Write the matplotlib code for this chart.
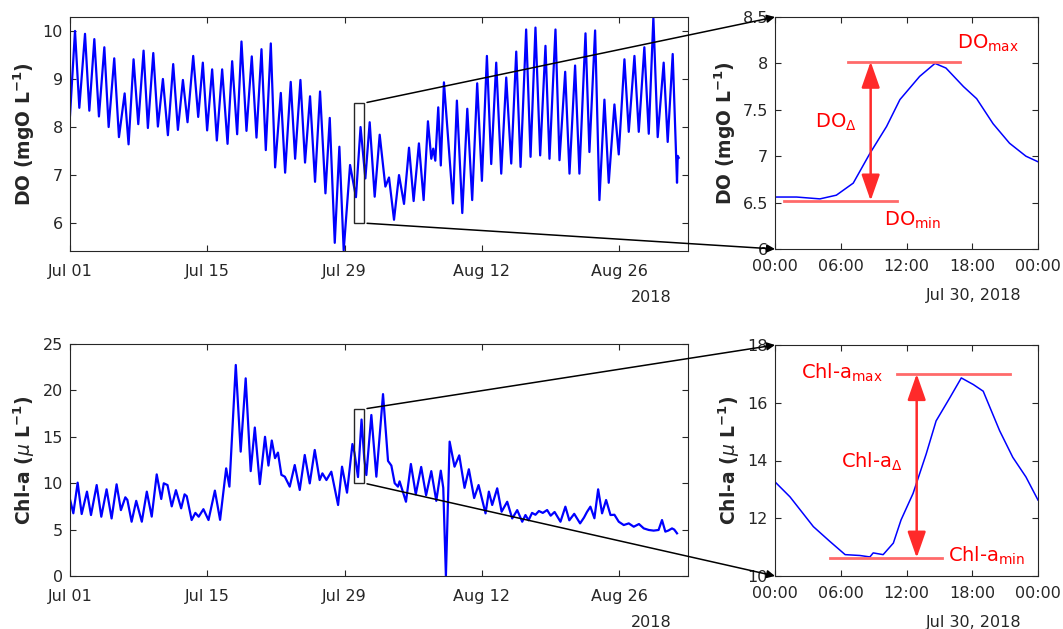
import numpy as np
import matplotlib.pyplot as plt
from matplotlib.patches import Rectangle, ConnectionPatch
from matplotlib.ticker import FormatStrFormatter

# values
# long series: days since 2018-07-01 00:00
do_days = [0.0, 0.51, 0.95, 1.53, 1.97, 2.48, 2.95, 3.50, 3.94, 4.51, 4.99, 5.57, 5.97,
           6.48, 6.96, 7.50, 7.94, 8.49, 8.96, 9.47, 9.98, 10.52, 11.0, 11.51, 11.98,
           12.56, 13.07, 13.54, 13.98, 14.49, 14.97, 15.51, 16.06, 16.53, 17.04, 17.48,
           17.99, 18.53, 19.01, 19.52, 19.96, 20.47, 20.91, 21.49, 21.93, 22.5, 22.95,
           23.49, 23.96, 24.47, 24.98, 25.49, 26.04, 26.48, 26.99, 27.46, 27.90, 28.55,
           29.15, 29.62, 30.11, 30.55, 31.06, 31.57, 32.15, 32.52, 33.03, 33.54, 34.05,
           34.56, 35.03, 35.57, 36.05, 36.49, 36.83, 37.03, 37.24, 37.54, 37.8, 38.12,
           38.6, 39.04, 39.44, 39.99, 40.5, 41.0, 41.51, 41.99, 42.5, 42.94, 43.45, 43.96,
           44.47, 44.98, 45.49, 45.93, 46.5, 46.95, 47.45, 47.93, 48.47, 48.88, 49.49,
           49.9, 50.48, 50.92, 51.49, 51.93, 52.55, 52.95, 53.53, 53.97, 54.48, 54.92,
           55.5, 55.94, 56.52, 56.96, 57.54, 57.98, 58.55, 59.0, 59.47, 59.91, 60.52,
           60.93, 61.44, 61.88, 61.95, 62.05]
do_vals = [8.24, 10.0, 8.4, 9.94, 8.34, 9.83, 8.22, 9.66, 8.0, 9.43, 7.79, 8.7, 7.64,
           9.41, 8.06, 9.59, 7.98, 9.54, 8.01, 9.0, 7.83, 9.31, 7.94, 8.98, 8.1,
           9.48, 8.21, 9.34, 7.93, 9.2, 7.72, 9.2, 7.65, 9.37, 7.85, 9.78,
           7.92, 9.47, 7.78, 9.62, 7.52, 9.74, 7.16, 8.71, 7.05, 8.94, 7.34,
           8.98, 7.26, 8.64, 6.86, 8.74, 6.62, 8.19, 5.59, 7.59, 5.43, 7.21,
           6.54, 8.0, 6.93, 8.1, 6.55, 7.84, 6.76, 6.95, 6.07, 7.0, 6.4,
           7.57, 6.46, 7.66, 6.48, 8.12, 7.34, 7.55, 7.3, 8.41, 7.2, 8.93,
           7.6, 6.41, 8.55, 6.21, 8.38, 6.48, 8.91, 6.88, 9.48, 7.23, 9.34, 7.03,
           9.03, 7.24, 9.57, 7.17, 10.03, 7.38, 10.07, 7.41, 9.69, 7.34, 10.03,
           7.31, 9.15, 7.03, 9.28, 7.03, 9.95, 7.48, 10.01, 6.48, 8.57, 6.84,
           8.47, 7.43, 9.41, 7.9, 9.48, 7.9, 9.66, 7.86, 10.28, 7.79, 9.34,
           7.69, 9.52, 6.84, 7.4, 7.36]

chl_days = [0.0, 0.34, 0.78, 1.19, 1.73, 2.14, 2.72, 3.19, 3.73, 4.24, 4.75, 5.19, 5.64,
            5.85, 6.28, 6.75, 7.32, 7.83, 8.33, 8.84, 9.3, 9.56, 9.94, 10.37, 10.8,
            11.33, 11.68, 11.9, 12.4, 12.78, 13.12, 13.6, 14.12, 14.77, 15.3, 15.92,
            16.25, 16.9, 17.4, 17.91, 18.42, 18.84, 19.35, 19.88, 20.23, 20.57, 20.9,
            21.2, 21.55, 21.9, 22.4, 22.91, 23.42, 23.93, 24.44, 24.95, 25.45, 25.73,
            26.14, 26.64, 27.33, 27.73, 28.24, 28.79, 29.0, 29.36, 29.72, 30.0, 30.21,
            30.72, 31.23, 31.91, 32.42, 32.76, 33.1, 33.43, 33.6, 34.25, 34.75, 35.25,
            35.8, 36.3, 36.83, 37.34, 37.8, 38.05, 38.32, 38.7, 39.2, 39.68, 40.22,
            40.66, 41.2, 41.65, 42.36, 42.7, 43.04, 43.55, 44.0, 44.57, 45.08, 45.59,
            46.1, 46.43, 46.75, 47.1, 47.45, 47.8, 48.2, 48.64, 49.0, 49.4, 50.0,
            50.5, 50.9, 51.4, 52.0, 52.4, 52.7, 53.05, 53.46, 53.84, 54.24, 54.65,
            55.1, 55.5, 55.94, 56.45, 56.96, 57.47, 58.0, 58.49, 59.0, 59.5, 60.0,
            60.35, 60.69, 61.0, 61.37, 61.6, 61.88]
chl_vals = [8.26, 6.76, 10.06, 6.68, 9.09, 6.57, 9.8, 6.39, 9.34, 6.2, 9.88, 7.1, 8.48,
            8.2, 5.85, 8.1, 5.85, 9.09, 6.4, 10.95, 8.3, 9.99, 9.8, 7.5, 9.25,
            7.29, 8.8, 8.6, 6.03, 6.8, 6.39, 7.2, 6.03, 9.2, 6.05, 11.6,
            9.63, 22.74, 13.4, 21.3, 11.3, 16.0, 9.9, 15.0, 11.9, 14.6, 12.7,
            13.3, 10.9, 10.7, 9.63, 11.96, 9.27, 13.04, 9.98, 13.58, 10.34, 11.06,
            10.34, 11.24, 7.65, 11.78, 8.98, 14.22, 13.26, 10.66, 16.86, 12.63, 10.88,
            17.35, 10.7, 19.6, 12.4, 11.9, 10.0, 9.63, 10.2, 8.0, 12.07, 8.8,
            11.75, 8.7, 11.3, 8.1, 11.35, 9.5, 0.0, 14.48, 11.78, 13.0, 9.5,
            11.5, 8.4, 9.8, 6.75, 9.09, 7.65, 9.45, 6.93, 8.0, 6.2, 7.1,
            5.85, 6.57, 6.0, 6.8, 6.6, 7.0, 6.8, 7.11, 6.5, 6.9, 5.85,
            7.47, 6.0, 6.7, 5.67, 6.3, 6.9, 7.47, 6.22, 9.34, 6.75, 8.19,
            6.57, 6.6, 5.85, 5.49, 5.67, 5.31, 5.6, 5.13, 4.96, 4.89, 4.96,
            6.03, 4.78, 4.9, 5.13, 5.0, 4.6]

# zoomed day (Jul 30), hours
do_zoom_hours = [0, 1.97, 4.1, 5.6, 7.14, 8.66, 10.18, 11.4, 13.2, 14.6, 15.6, 17.2,
                 18.4, 19.9, 21.4, 22.9, 24]
do_zoom_vals = [6.56, 6.56, 6.54, 6.58, 6.71, 7.03, 7.32, 7.61, 7.86, 8.0, 7.95, 7.75,
                7.62, 7.35, 7.14, 7.0, 6.94]
chl_zoom_hours = [0, 1.37, 3.5, 5.0, 6.4, 7.75, 8.66, 8.96, 9.87, 10.8, 11.5, 12.6,
                  13.8, 14.7, 15.95, 17.0, 18.1, 19.0, 20.5, 21.7, 22.9, 24]
chl_zoom_vals = [13.26, 12.74, 11.71, 11.2, 10.74, 10.71, 10.66, 10.8, 10.74, 11.14,
                 11.94, 12.86, 14.23, 15.37, 16.17, 16.86, 16.63, 16.4, 15.03, 14.11,
                 13.43, 12.63]

date_ticks = [0, 14, 28, 42, 56]
date_labels = ['Jul 01', 'Jul 15', 'Jul 29', 'Aug 12', 'Aug 26']
hour_ticks = [0, 6, 12, 18, 24]
hour_labels = ['00:00', '06:00', '12:00', '18:00', '00:00']

zoom_day = 29          # Jul 30
do_window = (6, 8.5)
chl_window = (10, 18)
do_min, do_max = 6.52, 8.02
chl_min, chl_max = 10.63, 17.0

dark = '#262626'
red_line = '#ff6a6a'
red = '#ff0000'

W, H = 1063, 629
fig = plt.figure(figsize=(W / 100, H / 100), dpi=100)


def box(l, t, r, b):
    return [l / W, 1 - b / H, (r - l) / W, (b - t) / H]


def style(ax, padx):
    for s in ax.spines.values():
        s.set_color(dark)
        s.set_linewidth(0.8)
    ax.tick_params(direction='in', top=True, right=True, length=4, width=0.8,
                   colors=dark, labelsize=11.5)
    ax.tick_params(axis='x', pad=padx)
    ax.tick_params(axis='y', pad=5)


ax_do = fig.add_axes(box(70, 17, 688, 251))
ax_doz = fig.add_axes(box(775, 17, 1038, 249))
ax_chl = fig.add_axes(box(70, 344, 688, 576))
ax_chlz = fig.add_axes(box(775, 345, 1038, 576))

# left panels
for ax, days, vals, win in [(ax_do, do_days, do_vals, do_window),
                            (ax_chl, chl_days, chl_vals, chl_window)]:
    ax.plot(days, vals, color='blue', lw=1.6, solid_joinstyle='round')
    ax.add_patch(Rectangle((zoom_day, win[0]), 1, win[1] - win[0], fill=False,
                           ec=dark, lw=1, zorder=3))
    ax.set_xlim(0, 63)
    ax.set_xticks(date_ticks)
    ax.set_xticklabels(date_labels)
    style(ax, 9)
    ax.text(0.974, -0.2, '2018', transform=ax.transAxes, ha='right', va='center',
            fontsize=11.5, color=dark)

ax_do.set_ylim(min(do_vals) - 0.01, max(do_vals) + 0.01)
ax_do.set_yticks([6, 7, 8, 9, 10])
ax_chl.set_ylim(0, 25)
ax_chl.set_yticks([0, 5, 10, 15, 20, 25])

# zoom panels
for ax, hrs, vals, win in [(ax_doz, do_zoom_hours, do_zoom_vals, do_window),
                           (ax_chlz, chl_zoom_hours, chl_zoom_vals, chl_window)]:
    ax.plot(hrs, vals, color='blue', lw=1.1, solid_joinstyle='round')
    ax.set_xlim(0, 24)
    ax.set_ylim(*win)
    ax.set_xticks(hour_ticks)
    ax.set_xticklabels(hour_labels)
    ax.yaxis.set_major_formatter(FormatStrFormatter('%g'))
    style(ax, 7)
    ax.text(0.939, -0.2, 'Jul 30, 2018', transform=ax.transAxes, ha='right',
            va='center', fontsize=11.5, color=dark)

ax_doz.set_yticks([6, 6.5, 7, 7.5, 8, 8.5])
ax_chlz.set_yticks([10, 12, 14, 16, 18])

# y labels
lab = dict(fontsize=13.5, fontweight='bold', color=dark)
ax_do.set_ylabel('DO (mgO L$^{\\mathbf{-1}}$)', **lab)
ax_doz.set_ylabel('DO (mgO L$^{\\mathbf{-1}}$)', **lab)
ax_chl.set_ylabel('Chl-a ($\\mu$ L$^{\\mathbf{-1}}$)', **lab)
ax_chlz.set_ylabel('Chl-a ($\\mu$ L$^{\\mathbf{-1}}$)', **lab)
ax_do.yaxis.set_label_coords(-0.053, 0.5)
ax_chl.yaxis.set_label_coords(-0.053, 0.5)
ax_doz.yaxis.set_label_coords(-0.14, 0.5)
ax_chlz.yaxis.set_label_coords(-0.125, 0.5)

# red annotations
def range_marks(ax, lo, hi, lo_x, hi_x, arrow_x):
    ax.plot(lo_x, [lo, lo], color=red_line, lw=2)
    ax.plot(hi_x, [hi, hi], color=red_line, lw=2)
    ax.annotate('', xy=(arrow_x, hi), xytext=(arrow_x, lo),
                arrowprops=dict(arrowstyle='<|-|>,head_length=0.8,head_width=0.28',
                                color='#ff2a2a', lw=1.8, mutation_scale=20,
                                shrinkA=0, shrinkB=0))


range_marks(ax_doz, do_min, do_max, [0.82, 11.1], [6.69, 16.9], 8.73)
tx = dict(fontsize=14, color=red, va='center', ha='left')
ax_doz.text(16.6, 8.22, 'DO$_\\mathregular{max}$', **tx)
ax_doz.text(9.95, 6.31, 'DO$_\\mathregular{min}$', **tx)
ax_doz.text(3.65, 7.37, 'DO$_\\mathregular{\\Delta}$', **tx)

range_marks(ax_chlz, chl_min, chl_max, [5.0, 15.2], [11.1, 21.4], 12.93)
ax_chlz.text(2.4, 17.05, 'Chl-a$_\\mathregular{max}$', **tx)
ax_chlz.text(15.8, 10.7, 'Chl-a$_\\mathregular{min}$', **tx)
ax_chlz.text(6.0, 13.94, 'Chl-a$_\\mathregular{\\Delta}$', **tx)

# connectors from zoom boxes to zoom panels
for src, dst, win in [(ax_do, ax_doz, do_window), (ax_chl, ax_chlz, chl_window)]:
    for yv, yb in [(win[1], 1), (win[0], 0)]:
        con = ConnectionPatch(xyA=(zoom_day + 1, yv), coordsA=src.transData,
                              xyB=(0, yb), coordsB=dst.transAxes,
                              arrowstyle='-|>', color='black', lw=1.1,
                              mutation_scale=12, shrinkA=2, shrinkB=0)
        fig.add_artist(con)

plt.savefig('out.png', dpi=100)
